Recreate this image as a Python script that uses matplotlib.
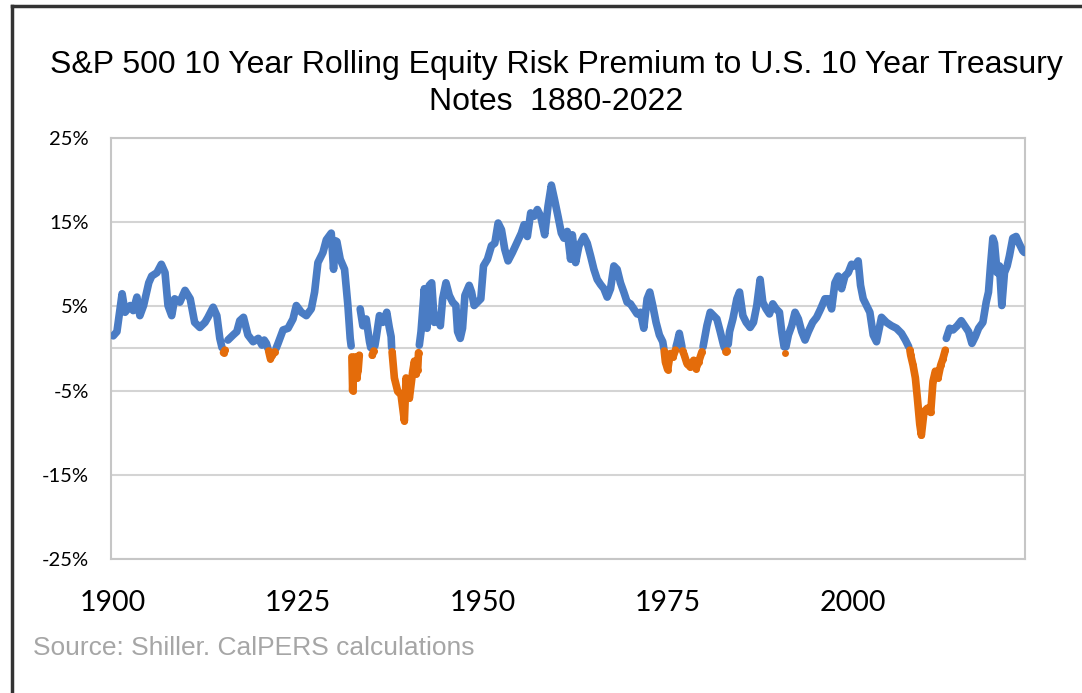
import numpy as np
import matplotlib
matplotlib.use("Agg")
import matplotlib.pyplot as plt
from matplotlib.lines import Line2D

# 10 year rolling equity risk premium (%)
years = [
    1900.1, 1900.6, 1901.3, 1901.7, 1902.4, 1902.8, 1903.3, 1903.7, 1904.2, 1904.9,
    1905.3, 1906.0, 1906.6, 1907.1, 1907.5, 1908.0, 1908.4, 1909.1, 1909.8, 1910.5,
    1911.1, 1911.8, 1912.5, 1912.9, 1913.6, 1914.1, 1914.5, 1914.8, 1915.0, 1915.2,
    1915.6, 1916.3, 1916.8, 1917.2, 1917.7, 1918.3, 1919.0, 1919.7, 1920.2, 1920.5,
    1920.8, 1921.0, 1921.1, 1921.34, 1921.6, 1921.92, 1922.1, 1922.37, 1923.05, 1923.72,
    1924.39, 1924.84, 1925.52, 1926.19, 1926.86, 1927.31, 1927.76, 1928.44, 1928.89, 1929.56,
    1929.87, 1930.1, 1930.32, 1930.77, 1931.36, 1931.81, 1932.12, 1932.25, 1932.35, 1932.45,
    1932.6, 1932.8, 1933.0, 1933.2, 1933.35, 1933.47, 1933.83, 1934.28, 1934.73, 1934.9,
    1935.09, 1935.3, 1935.45, 1935.62, 1936.07, 1936.52, 1937.06, 1937.4, 1937.65, 1937.72,
    1937.78, 1938.09, 1938.54, 1938.99, 1939.44, 1939.67, 1940.12, 1940.57, 1940.8, 1941.02,
    1941.24, 1941.35, 1941.46, 1941.69, 1942.14, 1942.5, 1942.81, 1943.13, 1943.49, 1943.94,
    1944.3, 1944.61, 1945.06, 1945.51, 1945.96, 1946.4, 1946.63, 1946.99, 1947.3, 1947.62,
    1948.2, 1948.52, 1948.87, 1949.32, 1949.77, 1950.13, 1950.67, 1951.21, 1951.66, 1952.11,
    1952.56, 1953.0, 1953.45, 1954.04, 1954.62, 1955.25, 1955.61, 1956.06, 1956.51, 1956.96,
    1957.41, 1957.86, 1958.4, 1958.85, 1959.3, 1959.75, 1960.2, 1960.65, 1961.0, 1961.45,
    1961.9, 1962.13, 1962.58, 1963.03, 1963.7, 1964.15, 1964.6, 1965.05, 1965.5, 1965.95,
    1966.4, 1966.85, 1967.3, 1967.75, 1968.19, 1968.64, 1969.09, 1969.54, 1969.99, 1970.44,
    1970.89, 1971.34, 1971.79, 1972.24, 1972.6, 1973.0, 1973.45, 1973.9, 1974.35, 1974.5,
    1974.55, 1974.71, 1975.02, 1975.38, 1975.74, 1976.06, 1976.15, 1976.33, 1976.59, 1976.95,
    1977.05, 1977.27, 1977.63, 1978.08, 1978.53, 1978.84, 1979.2, 1979.65, 1979.8, 1980.01,
    1980.32, 1980.77, 1981.22, 1981.67, 1982.12, 1982.57, 1982.75, 1982.88, 1983.02, 1983.2,
    1983.38, 1983.83, 1984.37, 1984.73, 1985.18, 1985.63, 1986.16, 1986.61, 1987.06, 1987.51,
    1987.87, 1988.32, 1988.77, 1989.22, 1989.67, 1990.12, 1990.43, 1990.75, 1990.88, 1991.0,
    1991.33, 1991.78, 1992.23, 1992.68, 1993.13, 1993.58, 1994.03, 1994.61, 1995.15, 1995.69,
    1996.27, 1996.72, 1997.17, 1997.62, 1998.07, 1998.52, 1998.97, 1999.42, 1999.87, 2000.31,
    2000.76, 2001.08, 2001.44, 2001.89, 2002.34, 2002.79, 2003.24, 2003.77, 2003.91, 2004.58,
    2005.26, 2005.93, 2006.61, 2007.14, 2007.59, 2007.75, 2007.86, 2008.18, 2008.49, 2008.76,
    2009.08, 2009.3, 2009.66, 2010.11, 2010.56, 2010.87, 2011.19, 2011.55, 2011.91, 2012.22,
    2012.53, 2012.67, 2013.12, 2013.57, 2014.15, 2014.69, 2015.14, 2015.68, 2016.13, 2016.58,
    2017.03, 2017.61, 2018.06, 2018.37, 2018.64, 2018.96, 2019.18, 2019.54, 2019.86, 2020.17,
    2020.53, 2020.89, 2021.2, 2021.65, 2022.1, 2022.55, 2023.0, 2023.23,
]
erp = [
    1.5, 2.0, 6.5, 4.3, 5.1, 4.5, 6.1, 3.9, 5.1, 7.8,
    8.6, 9.0, 10.0, 9.0, 5.1, 3.9, 5.9, 5.5, 6.9, 5.9,
    3.1, 2.5, 3.1, 3.7, 4.9, 3.9, 1.2, 0.1, -0.5, -0.2,
    1.0, 1.6, 2.0, 3.3, 3.7, 1.6, 0.8, 1.2, 0.4, 1.0,
    0.6, 0.0, -0.3, -1.2, -0.8, -0.4, 0.0, 0.6, 2.2, 2.4,
    3.5, 5.1, 4.3, 3.9, 4.7, 6.7, 10.2, 11.4, 12.9, 13.7,
    9.4, 12.8, 12.7, 10.6, 9.4, 5.1, 1.2, 0.3, -1.0, -5.0,
    -2.0, -1.0, -3.5, -2.5, -0.8, 4.7, 2.7, 3.5, 0.8, 0.1,
    -0.8, -0.3, 0.3, 1.2, 3.9, 3.1, 4.3, 2.5, 1.4, 0.1,
    -0.4, -3.5, -5.1, -5.5, -8.6, -3.5, -5.9, -2.7, -1.5, -3.0,
    -2.5, -0.5, 0.4, 2.0, 7.1, 2.4, 7.5, 7.8, 3.1, 3.9,
    2.7, 5.9, 7.8, 6.3, 5.5, 5.1, 2.0, 1.2, 2.4, 6.3,
    7.5, 6.7, 5.1, 5.5, 5.9, 9.8, 10.6, 12.2, 12.5, 14.9,
    14.1, 11.8, 10.4, 11.4, 12.5, 13.7, 14.7, 13.3, 16.1, 15.7,
    16.5, 15.7, 13.5, 16.9, 19.4, 17.6, 15.7, 13.7, 13.1, 13.9,
    10.6, 13.5, 10.2, 12.2, 13.3, 12.5, 11.0, 9.4, 8.2, 7.6,
    7.1, 6.1, 7.1, 9.8, 9.4, 7.8, 6.7, 5.5, 5.3, 4.7,
    4.1, 4.3, 2.4, 5.9, 6.7, 5.1, 3.1, 1.6, 0.8, 0.0,
    -0.3, -1.6, -2.5, -0.6, -1.0, -0.2, 0.2, 0.8, 1.8, 0.2,
    -0.3, -0.8, -1.8, -2.2, -1.4, -2.4, -1.6, -0.4, 0.2, 1.2,
    2.7, 4.3, 3.9, 3.5, 2.0, 0.4, 0.0, -0.4, -0.3, 0.5,
    2.0, 3.5, 5.9, 6.7, 3.9, 3.1, 2.5, 3.1, 5.1, 8.2,
    5.5, 4.7, 4.1, 5.3, 4.7, 4.3, 2.0, 0.2, -0.5, 0.2,
    1.6, 2.7, 4.3, 3.5, 2.0, 1.0, 2.0, 3.1, 3.7, 4.7,
    5.9, 5.9, 4.7, 7.8, 8.6, 7.1, 8.6, 9.0, 10.0, 9.8,
    10.4, 7.5, 5.9, 5.1, 4.3, 1.6, 0.8, 3.1, 3.7, 3.1,
    2.7, 2.4, 1.8, 1.0, 0.2, -0.2, -0.8, -2.0, -3.5, -5.9,
    -9.0, -10.3, -7.5, -7.1, -7.6, -3.9, -2.7, -3.5, -2.0, -1.2,
    -0.2, 1.2, 2.4, 2.2, 2.7, 3.3, 2.7, 2.0, 0.6, 1.4,
    2.4, 3.1, 5.5, 6.7, 9.8, 13.1, 12.5, 9.0, 9.8, 5.1,
    9.0, 9.8, 11.0, 13.1, 13.3, 12.4, 11.6, 11.4,
]
y_ticks = [-25, -15, -5, 5, 15, 25]
x_ticks = [1900, 1925, 1950, 1975, 2000]

BLUE = "#4a7cc4"
ORANGE = "#e46c0a"
GRID = "#d4d4d4"

x = np.array(years)
v = np.array(erp)
pos = np.where(v >= 0, v, np.nan)
neg = np.where(v < 0, v, np.nan)

fig = plt.figure(figsize=(10.82, 6.93), dpi=100)
ax = fig.add_axes([0.1026, 0.1934, 0.8447, 0.6075])

ax.plot(x, pos, color=BLUE, lw=5.5, solid_capstyle="round", solid_joinstyle="round", zorder=3)
ax.plot(x, neg, color=ORANGE, lw=5.5, marker="o", ms=5, mew=0,
        solid_capstyle="round", solid_joinstyle="round", zorder=3)

ax.set_xlim(1899.8, 2023.3)
ax.set_ylim(-25, 25)
ax.set_yticks(y_ticks)
ax.set_yticklabels([f"{t}%" for t in y_ticks], fontfamily="Lato", fontsize=14.5)
ax.set_xticks(x_ticks)
ax.set_xticklabels([str(t) for t in x_ticks], fontfamily="Lato", fontsize=20.5)
ax.tick_params(axis="y", length=0, pad=16)
ax.tick_params(axis="x", length=0, pad=22)
ax.grid(axis="y", color=GRID, lw=1.5, zorder=0)
ax.axhline(0, color=GRID, lw=1.5, zorder=1)
for sp in ax.spines.values():
    sp.set_color("#c6c6c6")
    sp.set_linewidth(1.5)

fig.text(0.514, 1 - 65 / 693, "S&P 500 10 Year Rolling Equity Risk Premium to U.S. 10 Year Treasury",
         ha="center", va="center", fontsize=23, fontfamily="Liberation Sans")
fig.text(0.514, 1 - 102 / 693, "Notes  1880-2022",
         ha="center", va="center", fontsize=23, fontfamily="Liberation Sans")
fig.text(33 / 1082, 1 - 648 / 693, "Source: Shiller. CalPERS calculations",
         ha="left", va="center", fontsize=19, color="#a6a6a6", fontfamily="Liberation Sans")

# frame drawn on left and top of the picture
fig.add_artist(Line2D([12 / 1082, 12 / 1082], [0, 1 - 6 / 693], transform=fig.transFigure,
                      color="#333333", lw=2.5))
fig.add_artist(Line2D([12 / 1082, 1], [1 - 6 / 693, 1 - 6 / 693], transform=fig.transFigure,
                      color="#333333", lw=2.5))

fig.savefig("out.png", dpi=100)
